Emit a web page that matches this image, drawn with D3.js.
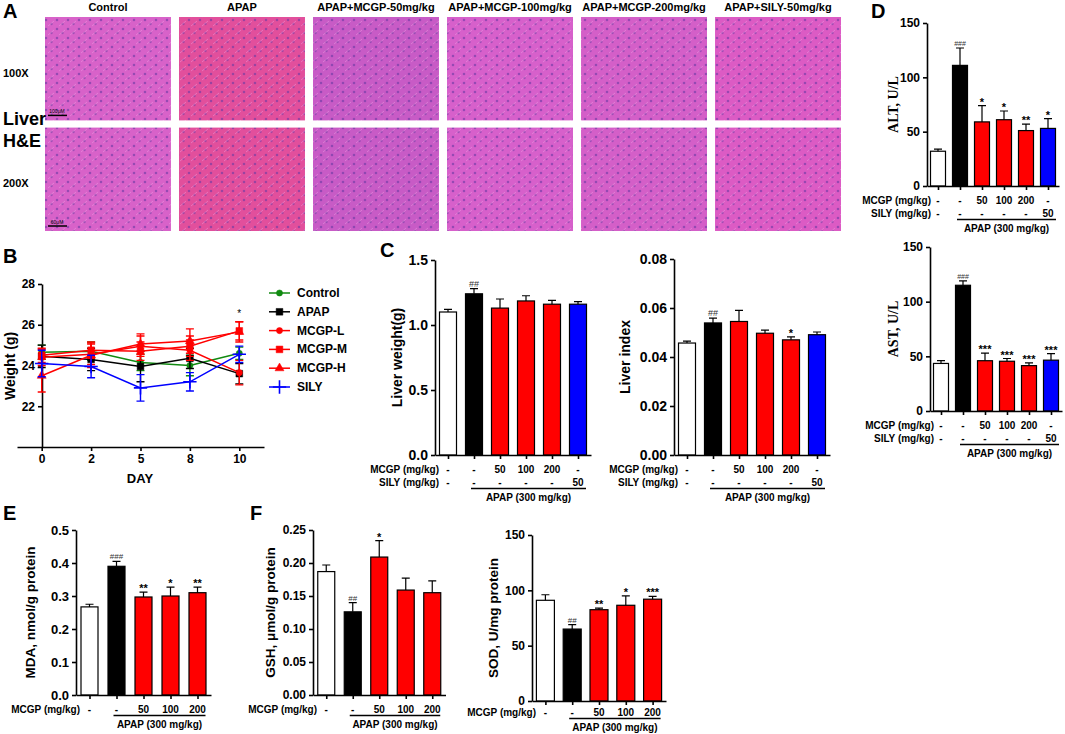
<!DOCTYPE html>
<html>
<head>
<meta charset="utf-8">
<script src="https://cdn.jsdelivr.net/npm/d3@7"></script>
<style>
  body { margin: 0; background: #fff; }
  svg { display: block; font-family: "Liberation Sans", Arial, sans-serif; font-weight: bold; }
</style>
</head>
<body>
<div id="chart"></div>
<script>
// groupes communs aux barres
const groups6 = ["Control", "APAP", "MCGP-50", "MCGP-100", "MCGP-200", "SILY-50"];
const groups5 = groups6.slice(0, 5);
const colors6 = ["#ffffff", "#000000", "#ff0000", "#ff0000", "#ff0000", "#0000ff"];
const colors5 = colors6.slice(0, 5);
const mcgpDose6 = ["-", "-", "50", "100", "200", "-"];
const silyDose6 = ["-", "-", "-", "-", "-", "50"];
const mcgpDose5 = ["-", "-", "50", "100", "200"];

// A : coupes histologiques
const histoTitles = ["Control", "APAP", "APAP+MCGP-50mg/kg", "APAP+MCGP-100mg/kg", "APAP+MCGP-200mg/kg", "APAP+SILY-50mg/kg"];
const histoTints = ["#d862c9", "#e24f9c", "#c85bc6", "#d760cb", "#d45fc8", "#dc5bc4"];
const magnifications = ["100X", "200X"];

// B : poids
const days = ["0", "2", "5", "8", "10"];
const weightNames = ["Control", "APAP", "MCGP-L", "MCGP-M", "MCGP-H", "SILY"];
const weightControl = [24.65, 24.7, 24.15, 24.0, 24.6];
const weightControlErr = [0.35, 0.45, 0.4, 0.5, 0.3];
const weightApap = [24.45, 24.3, 23.95, 24.35, 23.6];
const weightApapErr = [0.55, 0.55, 0.75, 0.5, 0.5];
const weightMcgpL = [24.4, 24.55, 24.95, 24.75, 23.65];
const weightMcgpLErr = [0.4, 0.5, 0.5, 0.5, 0.6];
const weightMcgpM = [24.5, 24.75, 24.7, 24.95, 25.7];
const weightMcgpMErr = [0.35, 0.4, 0.45, 0.5, 0.45];
const weightMcgpH = [23.5, 24.5, 25.05, 25.2, 25.65];
const weightMcgpHErr = [0.8, 0.6, 0.5, 0.6, 0.5];
const weightSily = [24.1, 23.95, 22.9, 23.2, 24.55];
const weightSilyErr = [0.65, 0.55, 0.65, 0.45, 0.4];
const weightColors = ["#118a11", "#000000", "#ff0000", "#ff0000", "#ff0000", "#0000ff"];
const weightTicks = [22, 24, 26, 28];

// C : foie
const liverWeight = [1.10, 1.24, 1.13, 1.185, 1.16, 1.16];
const liverWeightErr = [0.02, 0.04, 0.07, 0.04, 0.03, 0.02];
const liverWeightMarks = ["", "##", "", "", "", ""];
const liverIndex = [0.0457, 0.0539, 0.0545, 0.0497, 0.0470, 0.0491];
const liverIndexErr = [0.0008, 0.002, 0.0045, 0.0013, 0.0012, 0.0011];
const liverIndexMarks = ["", "##", "", "", "*", ""];

// D : transaminases
const alt = [32, 111, 59, 61, 51, 53];
const altErr = [2, 16, 15, 8, 6, 9];
const altMarks = ["", "###", "*", "*", "**", "*"];
const ast = [43.5, 115, 46, 45.5, 41.5, 46.5];
const astErr = [2.5, 4, 7, 2.5, 2.5, 6];
const astMarks = ["", "###", "***", "***", "***", "***"];

// E / F : stress oxydant
const mda = [0.267, 0.390, 0.297, 0.300, 0.310];
const mdaErr = [0.008, 0.015, 0.015, 0.027, 0.017];
const mdaMarks = ["", "###", "**", "*", "**"];
const gsh = [0.187, 0.126, 0.209, 0.159, 0.155];
const gshErr = [0.010, 0.014, 0.025, 0.018, 0.018];
const gshMarks = ["", "##", "*", "", ""];
const sod = [91, 65, 82.5, 86.5, 92];
const sodErr = [5, 4, 1.5, 8.5, 2.5];
const sodMarks = ["", "##", "**", "*", "***"];

const W = 1065, H = 734;
const svg = d3.select("#chart").append("svg").attr("width", W).attr("height", H);

const letter = (t, x, y) => svg.append("text").attr("x", x).attr("y", y).attr("font-size", 20).text(t);

// ---------- A ----------
const col = d3.scaleBand().domain(histoTitles).range([45, 841]).paddingInner(0.06);
const row = d3.scaleBand().domain(magnifications).range([17, 231]).paddingInner(0.065);

const defs = svg.append("defs");
histoTints.forEach((c, i) => {
  const p = defs.append("pattern").attr("id", "tissue" + i)
    .attr("width", 11).attr("height", 9).attr("patternUnits", "userSpaceOnUse");
  p.append("rect").attr("width", 11).attr("height", 9).attr("fill", c);
  p.append("circle").attr("cx", 2).attr("cy", 2).attr("r", 1.3).attr("fill", "#6b3aa3").attr("opacity", 0.6);
  p.append("circle").attr("cx", 7.5).attr("cy", 6).attr("r", 1.2).attr("fill", "#6b3aa3").attr("opacity", 0.5);
  p.append("path").attr("d", "M4,8 L10,3").attr("stroke", "#f3a8e6").attr("stroke-width", 0.6).attr("opacity", 0.7);
});

histoTitles.forEach((t, i) => {
  svg.append("text").attr("x", col(t) + col.bandwidth() / 2).attr("y", 11)
    .attr("text-anchor", "middle").attr("font-size", 11).text(t);
  magnifications.forEach(m => {
    svg.append("rect").attr("x", col(t)).attr("y", row(m))
      .attr("width", col.bandwidth()).attr("height", row.bandwidth())
      .attr("fill", `url(#tissue${i})`);
  });
});
// barres d'échelle
[["100μM", 0], ["60μM", 1]].forEach(([s, r]) => {
  const yb = row(magnifications[r]) + row.bandwidth() - 5;
  svg.append("line").attr("x1", 48).attr("x2", 67).attr("y1", yb).attr("y2", yb).attr("stroke", "#000").attr("stroke-width", 1.5);
  svg.append("text").attr("x", 57).attr("y", yb - 2).attr("text-anchor", "middle").attr("font-size", 5).attr("font-weight", "normal").text(s);
});
letter("A", 3, 18);
svg.append("text").attr("x", 3).attr("y", 77).attr("font-size", 11).text(magnifications[0]);
svg.append("text").attr("x", 3).attr("y", 187).attr("font-size", 11).text(magnifications[1]);
svg.append("text").attr("x", 3).attr("y", 125).attr("font-size", 18).text("Liver");
svg.append("text").attr("x", 3).attr("y", 147).attr("font-size", 18).text("H&E");

// ---------- B ----------
letter("B", 3, 263);
const xB = d3.scalePoint().domain(days).range([17, 264]).padding(0.5);
const yB = d3.scaleLinear().domain([20, 28]).range([447, 284]);
const gB = svg.append("g");
gB.append("g").attr("transform", "translate(42,0)")
  .call(d3.axisLeft(yB).tickValues(weightTicks).tickSize(4).tickSizeOuter(0));
gB.append("g").attr("transform", "translate(0,447)")
  .call(d3.axisBottom(xB).tickSize(4).tickSizeOuter(0));
gB.selectAll(".domain, .tick line").attr("stroke-width", 1.6);
gB.selectAll(".tick text").attr("font-size", 12).attr("font-family", "Liberation Sans").attr("font-weight", "bold");
gB.append("text").attr("x", 140).attr("y", 483).attr("text-anchor", "middle").attr("font-size", 13).text("DAY");
gB.append("text").attr("transform", "translate(15,366) rotate(-90)").attr("text-anchor", "middle").attr("font-size", 14).text("Weight (g)");

const symbolTypes = [d3.symbolCircle, d3.symbolSquare, d3.symbolCircle, d3.symbolSquare, d3.symbolTriangle, d3.symbolPlus || d3.symbolCross];
const symbolSizes = [30, 45, 30, 45, 35, 60];
const weightSeries = [
  [weightControl, weightControlErr], [weightApap, weightApapErr], [weightMcgpL, weightMcgpLErr],
  [weightMcgpM, weightMcgpMErr], [weightMcgpH, weightMcgpHErr], [weightSily, weightSilyErr]
];
const drawSymbol = (sel, k) => {
  const plus = k === 5;
  sel.attr("d", d3.symbol().type(symbolTypes[k]).size(symbolSizes[k]))
    .attr("fill", plus ? "none" : weightColors[k])
    .attr("stroke", weightColors[k]).attr("stroke-width", plus ? 1.6 : 0.5);
};
weightSeries.forEach(([vals, errs], k) => {
  const g = gB.append("g");
  const line = d3.line().x((d, i) => xB(days[i])).y(d => yB(d));
  g.append("path").datum(vals).attr("d", line).attr("fill", "none")
    .attr("stroke", weightColors[k]).attr("stroke-width", 1.5);
  vals.forEach((v, i) => {
    const cx = xB(days[i]);
    g.append("path").attr("stroke", weightColors[k]).attr("stroke-width", 1.4).attr("fill", "none")
      .attr("d", `M${cx},${yB(v - errs[i])}V${yB(v + errs[i])}M${cx - 4},${yB(v - errs[i])}H${cx + 4}M${cx - 4},${yB(v + errs[i])}H${cx + 4}`);
    g.append("path").attr("transform", `translate(${cx},${yB(v)})`).call(drawSymbol, k);
  });
});
gB.append("text").attr("x", xB("10")).attr("y", yB(weightMcgpM[4] + weightMcgpMErr[4]) - 5)
  .attr("text-anchor", "middle").attr("font-size", 10).attr("font-weight", "normal").text("*");

// légende
const legY = d3.scalePoint().domain(weightNames).range([293, 387]);
weightNames.forEach((n, k) => {
  const y = legY(n);
  svg.append("line").attr("x1", 269).attr("x2", 290).attr("y1", y).attr("y2", y)
    .attr("stroke", weightColors[k]).attr("stroke-width", 1.5);
  svg.append("path").attr("transform", `translate(279.5,${y})`).call(drawSymbol, k);
  svg.append("text").attr("x", 297).attr("y", y + 4).attr("font-size", 12).text(n);
});

// ---------- panneaux à barres ----------
function barPanel(p) {
  const g = svg.append("g");
  const n = p.groups.length;
  const x = d3.scalePoint().domain(p.groups).range([p.axisX, p.axisX + p.step * n]).padding(0.5);
  const y = d3.scaleLinear().domain(p.domain).range([p.base, p.top]);
  const bw = p.bw;

  g.selectAll("rect").data(p.values).join("rect")
    .attr("x", (d, i) => x(p.groups[i]) - bw / 2).attr("y", d => y(d))
    .attr("width", bw).attr("height", d => p.base - y(d))
    .attr("fill", (d, i) => p.colors[i]).attr("stroke", "#000").attr("stroke-width", 1.2);

  g.selectAll("path.err").data(p.values).join("path").attr("class", "err")
    .attr("d", (d, i) => {
      const cx = x(p.groups[i]), t = y(d + p.errs[i]);
      return `M${cx},${y(d)}V${t}M${cx - 4},${t}H${cx + 4}`;
    })
    .attr("stroke", "#000").attr("stroke-width", 1.2).attr("fill", "none");

  g.selectAll("text.mark").data(p.marks).join("text").attr("class", "mark")
    .attr("x", (d, i) => x(p.groups[i])).attr("y", (d, i) => y(p.values[i] + p.errs[i]) - (d[0] === "#" ? 2 : 0))
    .attr("text-anchor", "middle")
    .attr("font-weight", d => d[0] === "#" ? "normal" : "bold")
    .attr("font-size", d => d[0] === "#" ? p.hashSize : 11)
    .attr("fill", d => d[0] === "#" ? "#333" : "#000")
    .text(d => d);

  const ya = g.append("g").attr("transform", `translate(${p.axisX},0)`)
    .call(d3.axisLeft(y).tickValues(p.ticks).tickFormat(d3.format(p.fmt)).tickSize(4).tickSizeOuter(0));
  g.append("g").attr("transform", `translate(0,${p.base})`)
    .call(d3.axisBottom(x).tickSize(4).tickSizeOuter(0).tickFormat(""));
  g.selectAll(".domain, .tick line").attr("stroke-width", 1.6);
  ya.selectAll(".tick text").attr("font-size", p.tickSize).attr("font-family", "Liberation Sans").attr("font-weight", "bold");

  g.append("text")
    .attr("transform", `translate(${p.labelX},${(p.base + p.top) / 2}) rotate(-90)`)
    .attr("text-anchor", "middle").attr("font-size", p.labelSize)
    .attr("font-family", p.serif ? "Liberation Serif" : null)
    .text(p.label);

  // doses sous l'axe
  const r0 = p.base + (p.rowStart || 18);
  p.rows.forEach(([lab, vals], r) => {
    const ry = r0 + r * 13;
    g.append("text").attr("x", p.axisX + 4).attr("y", ry).attr("text-anchor", "end").attr("font-size", 10).text(lab);
    vals.forEach((v, i) => g.append("text").attr("x", x(p.groups[i])).attr("y", ry)
      .attr("text-anchor", "middle").attr("font-size", 10).text(v));
  });
  const ly = r0 + (p.rows.length - 1) * 13 + 2.5;
  const x1 = x(p.groups[1]) - 3, x2 = x(p.groups[n - 1]) + 8;
  g.append("line").attr("x1", x1).attr("x2", x2).attr("y1", ly).attr("y2", ly).attr("stroke", "#000").attr("stroke-width", 1.3);
  g.append("text").attr("x", (x1 + x2) / 2).attr("y", ly + 12).attr("text-anchor", "middle").attr("font-size", 10).text("APAP (300 mg/kg)");
}

letter("C", 380, 257);
barPanel({
  groups: groups6, values: liverWeight, errs: liverWeightErr, marks: liverWeightMarks, colors: colors6,
  axisX: 435, step: 26, bw: 17, base: 455, top: 260, domain: [0, 1.5], ticks: [0, 0.5, 1, 1.5], fmt: ".1f",
  tickSize: 14, hashSize: 9, label: "Liver weight(g)", labelX: 402, labelSize: 14,
  rows: [["MCGP (mg/kg)", mcgpDose6], ["SILY (mg/kg)", silyDose6]]
});
barPanel({
  groups: groups6, values: liverIndex, errs: liverIndexErr, marks: liverIndexMarks, colors: colors6,
  axisX: 674, step: 26, bw: 17, base: 455, top: 259, domain: [0, 0.08], ticks: [0, 0.02, 0.04, 0.06, 0.08], fmt: ".2f",
  tickSize: 14, hashSize: 9, label: "Liver index", labelX: 630, labelSize: 14,
  rows: [["MCGP (mg/kg)", mcgpDose6], ["SILY (mg/kg)", silyDose6]]
});

letter("D", 871, 18);
barPanel({
  groups: groups6, values: alt, errs: altErr, marks: altMarks, colors: colors6,
  axisX: 927, step: 22, bw: 15, base: 186, top: 23, domain: [0, 150], ticks: [0, 50, 100, 150], fmt: "d",
  tickSize: 12, hashSize: 7, label: "ALT, U/L", labelX: 898, labelSize: 14, serif: true,
  rows: [["MCGP (mg/kg)", mcgpDose6], ["SILY (mg/kg)", silyDose6]]
});
barPanel({
  groups: groups6, values: ast, errs: astErr, marks: astMarks, colors: colors6,
  axisX: 930, step: 22, bw: 15, base: 411, top: 247, domain: [0, 150], ticks: [0, 50, 100, 150], fmt: "d",
  tickSize: 12, hashSize: 7, label: "AST, U/L", labelX: 898, labelSize: 14, serif: true,
  rows: [["MCGP (mg/kg)", mcgpDose6], ["SILY (mg/kg)", silyDose6]]
});

letter("E", 3, 520);
barPanel({
  groups: groups5, values: mda, errs: mdaErr, marks: mdaMarks, colors: colors5,
  axisX: 76, step: 27, bw: 17, base: 695, top: 530, domain: [0, 0.5], ticks: [0, 0.1, 0.2, 0.3, 0.4, 0.5], fmt: ".1f",
  tickSize: 13, hashSize: 8, label: "MDA, nmol/g protein", labelX: 35, labelSize: 13.5,
  rows: [["MCGP (mg/kg)", mcgpDose5]]
});

letter("F", 250, 520);
barPanel({
  groups: groups5, values: gsh, errs: gshErr, marks: gshMarks, colors: colors5,
  axisX: 313, step: 26.5, bw: 17, base: 695, top: 530, domain: [0, 0.25], ticks: [0, 0.05, 0.1, 0.15, 0.2, 0.25], fmt: ".2f",
  tickSize: 12, hashSize: 8, label: "GSH, μmol/g protein", labelX: 275, labelSize: 13.5,
  rows: [["MCGP (mg/kg)", mcgpDose5]]
});
barPanel({
  groups: groups5, values: sod, errs: sodErr, marks: sodMarks, colors: colors5,
  axisX: 532, step: 26.8, bw: 18, base: 701, top: 535, domain: [0, 150], ticks: [0, 50, 100, 150], fmt: "d",
  tickSize: 12, hashSize: 8, label: "SOD, U/mg protein", labelX: 498, labelSize: 13.5, rowStart: 15,
  rows: [["MCGP (mg/kg)", mcgpDose5]]
});
</script>
</body>
</html>
